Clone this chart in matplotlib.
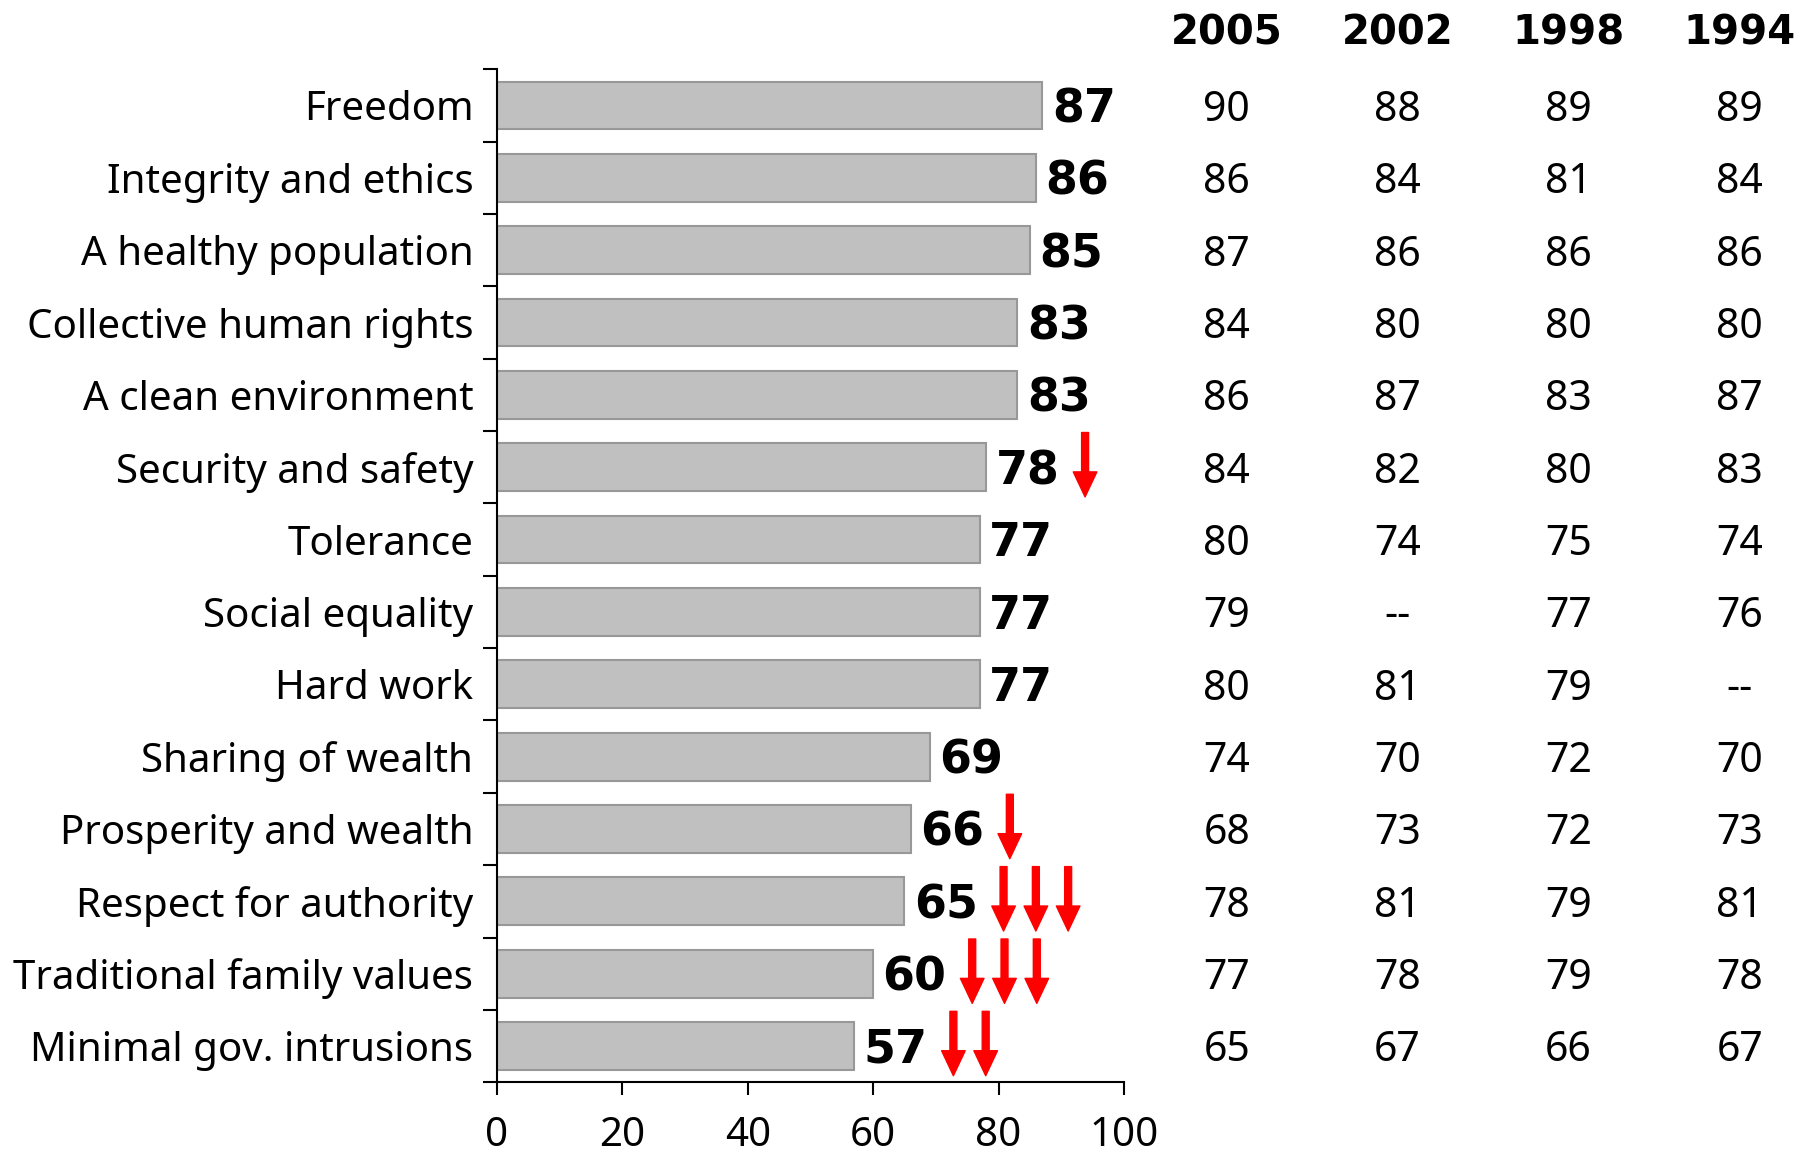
import matplotlib
matplotlib.use("Agg")
from matplotlib import pyplot as plt

# data
values = ["Freedom", "Integrity and ethics", "A healthy population",
          "Collective human rights", "A clean environment", "Security and safety",
          "Tolerance", "Social equality", "Hard work", "Sharing of wealth",
          "Prosperity and wealth", "Respect for authority",
          "Traditional family values", "Minimal gov. intrusions"]
score_now = [87, 86, 85, 83, 83, 78, 77, 77, 77, 69, 66, 65, 60, 57]
years = ["2005", "2002", "1998", "1994"]
score_2005 = [90, 86, 87, 84, 86, 84, 80, 79, 80, 74, 68, 78, 77, 65]
score_2002 = [88, 84, 86, 80, 87, 82, 74, None, 81, 70, 73, 81, 78, 67]
score_1998 = [89, 81, 86, 80, 83, 80, 75, 77, 79, 72, 72, 79, 79, 66]
score_1994 = [89, 84, 86, 80, 87, 83, 74, 76, None, 70, 73, 81, 78, 67]
# number of red "down" arrows next to each bar
drops = [0, 0, 0, 0, 0, 1, 0, 0, 0, 0, 1, 3, 3, 2]

plt.rcParams['font.family'] = ['Noto Sans', 'DejaVu Sans']
BOLD = ['DejaVu Sans']

fig = plt.figure(figsize=(18.07, 11.55), dpi=100)
ax = fig.add_axes([0.275, 0.063, 0.347, 0.877])

rows = list(range(len(values)))
ax.barh(rows, score_now, height=0.66, color='#c0c0c0', edgecolor='#989898', linewidth=1.5)

ax.set_xlim(0, 100)
ax.set_ylim(len(values) - 0.5, -0.5)
ax.set_xticks(range(0, 101, 20))
ax.set_yticks(rows)
ax.set_yticklabels(values)
ax.set_yticks([r - 0.5 for r in rows] + [len(values) - 0.5], minor=True)
ax.tick_params(axis='y', which='major', length=0, pad=17, labelsize=29)
ax.tick_params(axis='y', which='minor', length=10, width=1.5, direction='out')
ax.tick_params(axis='x', length=9, width=1.5, pad=15, labelsize=29)
for side in ['top', 'right']:
    ax.spines[side].set_visible(False)
for side in ['left', 'bottom']:
    ax.spines[side].set_linewidth(1.5)

# bold value labels and red arrows
for r, v in enumerate(score_now):
    ax.text(v + 1.5, r + 0.06, str(v), fontsize=33, fontweight='bold', family=BOLD,
            va='center', ha='left')
    for k in range(drops[r]):
        x = v + 15.8 + 5.15 * k
        ax.annotate('', xy=(x, r + 0.41), xytext=(x, r - 0.48),
                    arrowprops=dict(arrowstyle='simple,head_length=0.9,head_width=0.85,tail_width=0.25',
                                    mutation_scale=20, color='#ff0000', shrinkA=0, shrinkB=0))

# table of earlier results on the right
col_x = [116.4, 143.6, 170.9, 198.2]
cols = [score_2005, score_2002, score_1998, score_1994]
for cx, yr, col in zip(col_x, years, cols):
    ax.text(cx, -1.0, yr, fontsize=29, fontweight='bold', family=BOLD,
            ha='center', va='center', clip_on=False)
    for r, val in enumerate(col):
        txt = '--' if val is None else str(val)
        ax.text(cx, r + 0.06, txt, fontsize=29.5, ha='center', va='center', clip_on=False)

fig.savefig('out.png', dpi=100)
